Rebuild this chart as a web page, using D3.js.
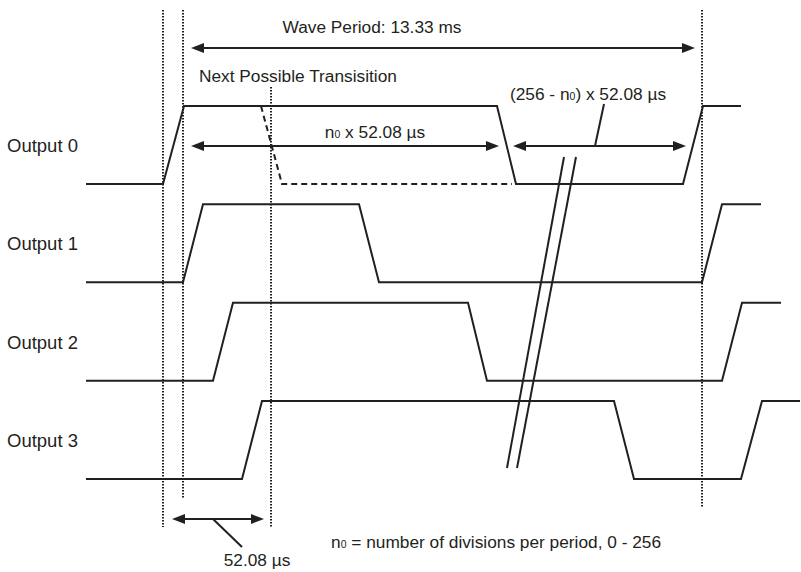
<!DOCTYPE html>
<html>
<head>
<meta charset="utf-8">
<script src="https://cdn.jsdelivr.net/npm/d3@7"></script>
<style>
  body { margin: 0; background: #fff; }
  text { font-family: "Liberation Sans", Arial, Helvetica, sans-serif; fill: #231f20; }
</style>
</head>
<body>
<div id="chart"></div>
<script>
// output channels
const outputs = ["Output 0", "Output 1", "Output 2", "Output 3"];

// edge times for each output (start, rise, high, fall, low, rise, high, end)
const edgeTimes = [
  [86, 163, 184, 497, 516, 683, 703, 741],
  [86, 183, 203, 359, 379, 702, 722, 761],
  [86, 213, 233, 468, 487, 722, 742, 781],
  [86, 242, 262, 614, 634, 741, 762, 800]
];
const edgeLevels = [0, 0, 1, 1, 0, 0, 1, 1];

// next possible transition of output 0 (dashed)
const altTimes = [261, 282, 512];
const altLevels = [1, 0, 0];

// dotted time markers
const markerTimes = [163, 183, 271, 702];

function init() {
  const width = 801;
  const height = 572;
  const ink = "#231f20";

  const svg = d3.select("#chart")
    .append("svg")
    .attr("width", width)
    .attr("height", height);

  const x = d3.scaleLinear().domain([0, 801]).range([0, 801]);
  const row = d3.scalePoint().domain(outputs).range([184, 479]);
  const level = d3.scaleLinear().domain([0, 1]).range([0, -78]);

  const wave = d3.line()
    .x(d => x(d[0]))
    .y(d => d[1]);

  // dotted markers
  const markerSpans = [[10, 527], [10, 498], [87, 527], [10, 508]];
  svg.selectAll("line.marker")
    .data(markerTimes)
    .enter()
    .append("line")
    .attr("class", "marker")
    .attr("x1", d => x(d)).attr("x2", d => x(d))
    .attr("y1", (d, i) => markerSpans[i][0])
    .attr("y2", (d, i) => markerSpans[i][1])
    .attr("stroke", ink)
    .attr("stroke-width", 2)
    .attr("stroke-dasharray", "1.5,1.5");

  // waveforms
  svg.selectAll("path.wave")
    .data(outputs)
    .enter()
    .append("path")
    .attr("class", "wave")
    .attr("d", (o, i) => wave(edgeTimes[i].map((t, k) => [t, row(o) + level(edgeLevels[k])])))
    .attr("fill", "none")
    .attr("stroke", ink)
    .attr("stroke-width", 2)
    .attr("stroke-linejoin", "miter");

  svg.append("path")
    .attr("d", wave(altTimes.map((t, k) => [t, row(outputs[0]) + level(altLevels[k])])))
    .attr("fill", "none")
    .attr("stroke", ink)
    .attr("stroke-width", 2)
    .attr("stroke-dasharray", "6,4");

  // labels
  svg.selectAll("text.label")
    .data(outputs)
    .enter()
    .append("text")
    .attr("class", "label")
    .attr("x", 7)
    .attr("y", d => row(d) + level(0.5) + 7)
    .style("font-size", "18.5px")
    .text(d => d);

  // double arrows
  function arrow(t1, t2, y) {
    const a = x(t1), b = x(t2), len = 13, hw = 5;
    svg.append("line")
      .attr("x1", a + len - 1).attr("x2", b - len + 1)
      .attr("y1", y).attr("y2", y)
      .attr("stroke", ink).attr("stroke-width", 2);
    svg.append("path")
      .attr("d", `M${a},${y}L${a + len},${y - hw}L${a + len},${y + hw}Z`)
      .attr("fill", ink);
    svg.append("path")
      .attr("d", `M${b},${y}L${b - len},${y - hw}L${b - len},${y + hw}Z`)
      .attr("fill", ink);
  }

  function leader(x1, y1, x2, y2) {
    svg.append("line")
      .attr("x1", x1).attr("y1", y1).attr("x2", x2).attr("y2", y2)
      .attr("stroke", ink).attr("stroke-width", 2);
  }

  arrow(191, 695, 48);
  arrow(191, 499, 146);
  arrow(513, 686, 146);
  arrow(172, 264, 519);

  leader(604, 104, 595, 146);
  leader(213, 519, 242, 547);

  // break marks
  leader(564, 157, 507, 468);
  leader(576, 157, 517, 468);

  // annotation text
  const fs = "17.3px";
  svg.append("text")
    .attr("x", 372).attr("y", 33)
    .attr("text-anchor", "middle")
    .style("font-size", fs)
    .text("Wave Period: 13.33 ms");

  svg.append("text")
    .attr("x", 199).attr("y", 82)
    .style("font-size", fs)
    .text("Next Possible Transisition");

  function subText(px, py, anchor, parts) {
    const t = svg.append("text")
      .attr("x", px).attr("y", py)
      .attr("text-anchor", anchor)
      .style("font-size", fs);
    parts.forEach(p => {
      t.append("tspan")
        .style("font-size", p.sub ? "10.5px" : fs)
        .text(p.s);
    });
  }

  subText(375, 138, "middle", [{s: "n"}, {s: "0", sub: true}, {s: " x 52.08 \u00b5s"}]);
  subText(588, 100, "middle", [{s: "(256 - n"}, {s: "0", sub: true}, {s: ") x 52.08 \u00b5s"}]);
  subText(331, 548, "start", [{s: "n"}, {s: "0", sub: true}, {s: " = number of divisions per period, 0 - 256"}]);

  svg.append("text")
    .attr("x", 257).attr("y", 566)
    .attr("text-anchor", "middle")
    .style("font-size", fs)
    .text("52.08 \u00b5s");
}
init();
</script>
</body>
</html>
